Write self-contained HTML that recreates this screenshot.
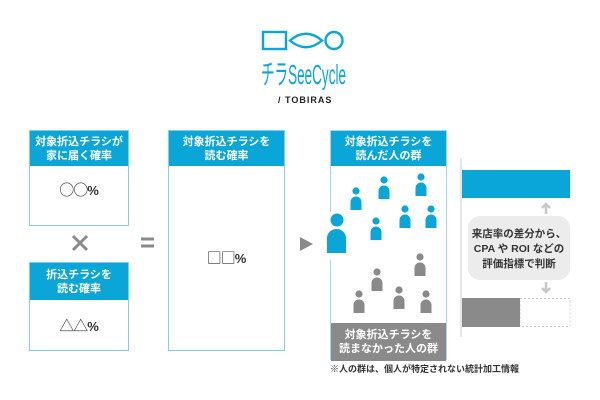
<!DOCTYPE html>
<html><head><meta charset="utf-8"><style>
body{margin:0;width:600px;height:400px;background:#fff;position:relative;overflow:hidden;font-family:"Liberation Sans","Noto Sans CJK JP",sans-serif}
.a{position:absolute}
.box{position:absolute;border:1.5px solid #7fcfeb;box-sizing:border-box;background:#fff}
.hd{position:absolute;left:0;right:0;top:0;background:#0aa6d8;color:#fff;font-weight:bold;font-size:11px;line-height:14px;text-align:center;display:flex;align-items:center;justify-content:center}
.val{position:absolute;left:0;right:0;text-align:center;font-size:13px;font-weight:bold;color:#333}
.g{font-family:"Noto Sans CJK JP",sans-serif;font-weight:normal;font-size:15px;letter-spacing:-1px}
</style></head><body>
<svg class="a" style="left:0;top:0" width="600" height="400">
<rect x="263" y="32" width="23" height="17" fill="none" stroke="#0aa6d8" stroke-width="2.4"/>
<path d="M290 40.5 Q306 27 322 40.5 Q306 54 290 40.5Z" fill="none" stroke="#0aa6d8" stroke-width="2.4"/>
<circle cx="334" cy="40.5" r="8.5" fill="none" stroke="#0aa6d8" stroke-width="2.4"/>
<line x1="461" y1="158" x2="461" y2="337" stroke="#ddd" stroke-width="1.5"/>
<rect x="462" y="170" width="108" height="28" fill="#0aa6d8"/>
<rect x="468" y="216" width="102" height="64" rx="12" fill="#ececec"/>
<path d="M546 214V204M542 208l4-4 4 4M546 282v10M542 288l4 4 4-4" stroke="#c8c8c8" stroke-width="2.5" fill="none"/>
<rect x="520" y="298.5" width="50" height="28" fill="none" stroke="#ccc" stroke-dasharray="2,2"/>
<rect x="462" y="298" width="58" height="29" fill="#8a8a8a"/>
<line x1="333" y1="270" x2="447" y2="233" stroke="#ddd" stroke-dasharray="2,2"/>
<path d="M300 237l13 7-13 7z" fill="#8a8a8a"/>
<path d="M73 236l14 14M87 236l-14 14" stroke="#8a8a8a" stroke-width="3"/>
<path d="M141 239h13M141 246h13" stroke="#8a8a8a" stroke-width="3"/>
<text x="261" y="84" font-family="Liberation Sans Narrow, Liberation Sans, Noto Sans CJK JP, sans-serif" font-size="28" fill="#0aa6d8" textLength="85" lengthAdjust="spacingAndGlyphs">チラSeeCycle</text>
</svg>
<div class="a" style="left:278px;top:95px;font-size:9px;font-weight:bold;letter-spacing:1px;color:#222">/ TOBIRAS</div>

<div class="box" style="left:29px;top:130px;width:100px;height:96px"><div class="hd" style="height:35px">対象折込チラシが<br>家に届く確率</div><div class="val" style="top:48px"><span class="g">○○</span>%</div></div>
<div class="box" style="left:29px;top:262px;width:100px;height:89px"><div class="hd" style="height:37px">折込チラシを<br>読む確率</div><div class="val" style="top:52px"><span class="g">△△</span>%</div></div>
<div class="box" style="left:168px;top:130px;width:117px;height:221px"><div class="hd" style="height:35px">対象折込チラシを<br>読む確率</div><div class="val" style="top:116px"><span class="g">□□</span>%</div></div>
<div class="box" style="left:330px;top:130px;width:117px;height:230px;border-color:#9fd9ee"><div class="hd" style="height:35px">対象折込チラシを<br>読んだ人の群</div><div class="hd" style="top:192px;height:38px;background:#8a8a8a">対象折込チラシを<br>読まなかった人の群</div></div>
<svg class="a" style="left:0;top:0" width="600" height="400">
<rect x="325" y="212" width="22" height="48" fill="#fff"/>
<circle cx="337" cy="220" r="6.5" fill="#0aa6d8"/><path d="M327 253v-15a9.5 9 0 0 1 19 0v15z" fill="#0aa6d8"/>
<g fill="#0aa6d8">
<g transform="translate(356,191)"><circle r="3.6"/><path d="M-5.5 19v-8a5.5 5.5 0 0 1 11 0v8z"/></g>
<g transform="translate(384,180)"><circle r="3.6"/><path d="M-5.5 19v-8a5.5 5.5 0 0 1 11 0v8z"/></g>
<g transform="translate(421,177)"><circle r="3.6"/><path d="M-5.5 19v-8a5.5 5.5 0 0 1 11 0v8z"/></g>
<g transform="translate(405,209)"><circle r="3.6"/><path d="M-5.5 19v-8a5.5 5.5 0 0 1 11 0v8z"/></g>
<g transform="translate(431,209)"><circle r="3.6"/><path d="M-5.5 19v-8a5.5 5.5 0 0 1 11 0v8z"/></g>
<g transform="translate(376,221)"><circle r="3.6"/><path d="M-5.5 19v-8a5.5 5.5 0 0 1 11 0v8z"/></g>
</g>
<g fill="#8a8a8a">
<g transform="translate(420,257)"><circle r="3.6"/><path d="M-5.5 19v-8a5.5 5.5 0 0 1 11 0v8z"/></g>
<g transform="translate(377,272)"><circle r="3.6"/><path d="M-5.5 19v-8a5.5 5.5 0 0 1 11 0v8z"/></g>
<g transform="translate(399,290)"><circle r="3.6"/><path d="M-5.5 19v-8a5.5 5.5 0 0 1 11 0v8z"/></g>
<g transform="translate(359,294)"><circle r="3.6"/><path d="M-5.5 19v-8a5.5 5.5 0 0 1 11 0v8z"/></g>
<g transform="translate(426,294)"><circle r="3.6"/><path d="M-5.5 19v-8a5.5 5.5 0 0 1 11 0v8z"/></g>
</g>
</svg>
<div class="a" style="left:468px;top:227px;width:102px;text-align:center;font-size:10.5px;font-weight:bold;line-height:15px;color:#333">来店率の差分から、<br>CPA や ROI などの<br>評価指標で判断</div>
<div class="a" style="left:330px;top:362px;font-size:9px;color:#333;font-weight:bold">※人の群は、個人が特定されない統計加工情報</div>
</body></html>
